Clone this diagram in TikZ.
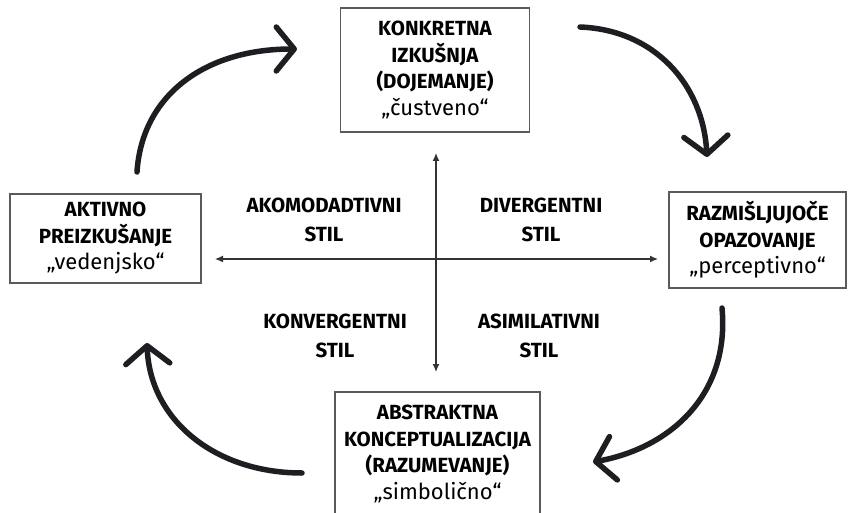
\documentclass[tikz,border=0pt]{standalone}
\usepackage{fontspec}
\setmainfont{Fira Sans}
\usetikzlibrary{arrows.meta}
\definecolor{ink}{HTML}{1E1E22}
\definecolor{boxline}{HTML}{5A5A5A}
\definecolor{axisline}{HTML}{333333}
\newcommand{\capline}[1]{{\bfseries\fontsize{20.5}{26.5}\selectfont #1}}
\newcommand{\lowline}[1]{{\fontsize{22}{26.5}\selectfont #1}}
\begin{document}
\begin{tikzpicture}[x=1pt,y=-1pt,
  stagebox/.style={draw=boxline, line width=1.4pt, fill=white, align=center, inner sep=0pt,
    font=\fontsize{20.5}{26.5}\selectfont},
  stylelabel/.style={align=center, inner sep=0pt, font=\bfseries\fontsize{20.5}{29}\selectfont},
  cyclearrow/.style={draw=ink, line width=5.5pt, line cap=round,
    -{Straight Barb[length=18pt,width=44pt,round]}},
  axisarrow/.style={draw=axisline, line width=1.3pt,
    {Latex[length=8pt,width=7pt]}-{Latex[length=8pt,width=7pt]}}]
\useasboundingbox (0,0) rectangle (848,513);
\fill[white] (0,0) rectangle (848,513);

% stage boxes
\node[stagebox, minimum width=189pt, minimum height=124pt] (konk) at (435,70)
  {\capline{KONKRETNA}\\\capline{IZKUŠNJA}\\\capline{(DOJEMANJE)}\\\lowline{„čustveno“}};
\node[stagebox, minimum width=191pt, minimum height=89pt] (akt) at (105.5,238.5)
  {\capline{AKTIVNO}\\\capline{PREIZKUŠANJE}\\\lowline{„vedenjsko“}};
\node[stagebox, minimum width=177pt, minimum height=96pt] (razm) at (757.5,240)
  {\capline{RAZMIŠLJUJOČE}\\\capline{OPAZOVANJE}\\\lowline{„perceptivno“}};
\node[stagebox, minimum width=205pt, minimum height=124pt] (abs) at (437.5,454)
  {\capline{ABSTRAKTNA}\\\capline{KONCEPTUALIZACIJA}\\\capline{(RAZUMEVANJE)}\\\lowline{„simbolično“}};

% axes
\coordinate (axT) at (436,153);
\coordinate (axB) at (436,372);
\coordinate (axL) at (215,259);
\coordinate (axR) at (658,259);
\draw[axisarrow] (axB) -- (axT);
\draw[axisarrow] (axL) -- (axR);

% style labels
\node[stylelabel] (akom) at (324,220) {AKOMODADTIVNI\\STIL};
\node[stylelabel] (div) at (541,220) {DIVERGENTNI\\STIL};
\node[stylelabel] (konv) at (335,336) {KONVERGENTNI\\STIL};
\node[stylelabel] (asim) at (539,336) {ASIMILATIVNI\\STIL};

% cycle arrows
\coordinate (a1s) at (137,172);
\coordinate (a1e) at (297,49);
\coordinate (a2s) at (580,27);
\coordinate (a2e) at (707,157);
\coordinate (a3s) at (722,308);
\coordinate (a3e) at (593,462);
\coordinate (a4s) at (302,473);
\coordinate (a4e) at (147,343);
\draw[cyclearrow] (a1s) .. controls (142,95) and (205,49) .. (a1e);
\draw[cyclearrow] (a2s) .. controls (655,30) and (703,85) .. (a2e);
\draw[cyclearrow] (a3s) .. controls (730,395) and (670,448) .. (a3e);
\draw[cyclearrow] (a4s) .. controls (215,473) and (150,420) .. (a4e);
\end{tikzpicture}
\end{document}
